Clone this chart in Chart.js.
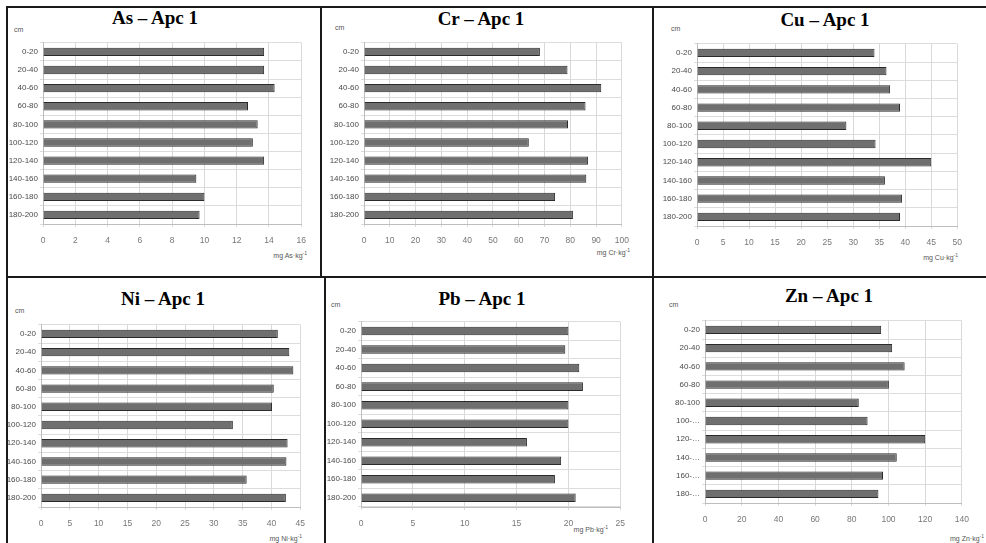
<!DOCTYPE html>
<html>
<head>
<meta charset="utf-8">
<script src="https://cdn.jsdelivr.net/npm/chart.js@4.4.1/dist/chart.umd.min.js"></script>
<style>
body{margin:0;background:#fff;width:986px;height:543px;position:relative;overflow:hidden;font-family:"Liberation Sans",Arial,sans-serif;}
.line{position:absolute;background:#1a1a1a;}
.ttl{position:absolute;font:bold 19px "Liberation Serif","Times New Roman",serif;white-space:nowrap;transform:translateX(-50%);line-height:19px;color:#000;}
.sm{position:absolute;font-size:7px;color:#555;white-space:nowrap;line-height:8px;}
.sm sup{font-size:5px;vertical-align:3px;line-height:0;}
canvas{position:absolute;}
</style>
</head>
<body>
<!-- table frame -->
<div class="line" style="left:6px;top:6px;width:980px;height:2px"></div>
<div class="line" style="left:6px;top:276px;width:980px;height:2px"></div>
<div class="line" style="left:6px;top:6px;width:2px;height:537px"></div>
<div class="line" style="left:320px;top:6px;width:2px;height:271px"></div>
<div class="line" style="left:324px;top:277px;width:2px;height:266px"></div>
<div class="line" style="left:652px;top:6px;width:2px;height:537px"></div>

<div class="ttl" style="left:155px;top:8px">As – Apc 1</div>
<div class="ttl" style="left:481px;top:9px">Cr – Apc 1</div>
<div class="ttl" style="left:825px;top:10px">Cu – Apc 1</div>
<div class="ttl" style="left:163px;top:289px">Ni – Apc 1</div>
<div class="ttl" style="left:482px;top:289px">Pb – Apc 1</div>
<div class="ttl" style="left:829px;top:286px">Zn – Apc 1</div>

<div class="sm" style="left:14px;top:26px">cm</div>
<div class="sm" style="left:335px;top:24px">cm</div>
<div class="sm" style="left:671px;top:25px">cm</div>
<div class="sm" style="left:15px;top:307px">cm</div>
<div class="sm" style="left:331px;top:301px">cm</div>
<div class="sm" style="left:669px;top:301px">cm</div>

<div class="sm" style="right:679px;top:252px">mg As·kg<sup>-1</sup></div>
<div class="sm" style="right:356px;top:249px">mg Cr·kg<sup>-1</sup></div>
<div class="sm" style="right:28px;top:254px">mg Cu·kg<sup>-1</sup></div>
<div class="sm" style="right:684px;top:535px">mg Ni·kg<sup>-1</sup></div>
<div class="sm" style="right:378px;top:526px">mg Pb·kg<sup>-1</sup></div>
<div class="sm" style="right:2px;top:535px">mg Zn·kg<sup>-1</sup></div>

<canvas id="cAs"></canvas>
<canvas id="cCr"></canvas>
<canvas id="cCu"></canvas>
<canvas id="cNi"></canvas>
<canvas id="cPb"></canvas>
<canvas id="cZn"></canvas>

<script>
// depth classes (cm)
var depths = ["0-20", "20-40", "40-60", "60-80", "80-100", "100-120", "120-140", "140-160", "160-180", "180-200"];
var depthsZn = ["0-20", "20-40", "40-60", "60-80", "80-100", "100-…", "120-…", "140-…", "160-…", "180-…"];

// concentrations, mg/kg
var asValues = [13.7, 13.7, 14.35, 12.7, 13.3, 13.0, 13.7, 9.5, 10.0, 9.7];
var crValues = [68.2, 78.9, 92.0, 85.9, 79.1, 63.9, 86.9, 86.2, 74.1, 81.0];
var cuValues = [34.1, 36.4, 37.1, 39.0, 28.7, 34.3, 45.0, 36.1, 39.4, 39.0];
var niValues = [41.1, 43.1, 43.8, 40.4, 40.1, 33.3, 42.8, 42.6, 35.7, 42.5];
var pbValues = [20.0, 19.7, 21.05, 21.4, 20.0, 20.0, 16.0, 19.3, 18.7, 20.7];
var znValues = [96.0, 102.0, 108.8, 100.2, 83.8, 88.6, 120.0, 104.5, 97.0, 94.5];

// x axis ranges
var axisMax = [16, 100, 50, 45, 25, 140];
var axisStep = [2, 10, 5, 5, 5, 20];

var fam = "'Liberation Sans',Arial,sans-serif";

function drawPanel(id, labels, values, max, step, box) {
	var yw = 40, xh = 26, padTop = 4, padRight = 12;
	var c = document.getElementById(id);
	var w = yw + (box.x1 - box.x0) + padRight;
	var h = padTop + (box.bottom - box.top) + xh;
	c.style.left = (box.x0 - yw) + 'px';
	c.style.top = (box.top - padTop) + 'px';
	c.width = w; c.height = h;
	c.style.width = w + 'px'; c.style.height = h + 'px';

	new Chart(c, {
		type: 'bar',
		data: {
			labels: labels,
			datasets: [{
				data: values,
				backgroundColor: '#6f6f6f',
				borderColor: '#2a2a2a',
				borderWidth: 1,
				barPercentage: 0.46,
				categoryPercentage: 1
			}]
		},
		options: {
			indexAxis: 'y',
			responsive: false,
			animation: false,
			layout: {padding: {left: 0, right: padRight, top: padTop, bottom: 0}},
			plugins: {legend: {display: false}, tooltip: {enabled: false}},
			scales: {
				x: {
					min: 0, max: max,
					ticks: {stepSize: step, color: '#777', font: {family: fam, size: 8.5}, padding: 9},
					grid: {color: '#d9d9d9', tickLength: 3},
					border: {color: '#bdbdbd'},
					afterFit: function(s) { s.height = xh; }
				},
				y: {
					ticks: {color: '#4a4a4a', font: {family: fam, size: 8}, padding: 2, autoSkip: false},
					grid: {color: '#dcdcdc', tickLength: 3, offset: true},
					border: {color: '#bdbdbd'},
					afterFit: function(s) { s.width = yw; }
				}
			}
		}
	});
}

drawPanel('cAs', depths, asValues, axisMax[0], axisStep[0], {x0: 43, x1: 303, top: 40, bottom: 224});
drawPanel('cCr', depths, crValues, axisMax[1], axisStep[1], {x0: 364, x1: 626, top: 40, bottom: 224});
drawPanel('cCu', depths, cuValues, axisMax[2], axisStep[2], {x0: 697, x1: 959, top: 41, bottom: 226});
drawPanel('cNi', depths, niValues, axisMax[3], axisStep[3], {x0: 41, x1: 302, top: 322, bottom: 507});
drawPanel('cPb', depths, pbValues, axisMax[4], axisStep[4], {x0: 361, x1: 622, top: 319, bottom: 507});
drawPanel('cZn', depthsZn, znValues, axisMax[5], axisStep[5], {x0: 705, x1: 966, top: 318, bottom: 503});
</script>
</body>
</html>
